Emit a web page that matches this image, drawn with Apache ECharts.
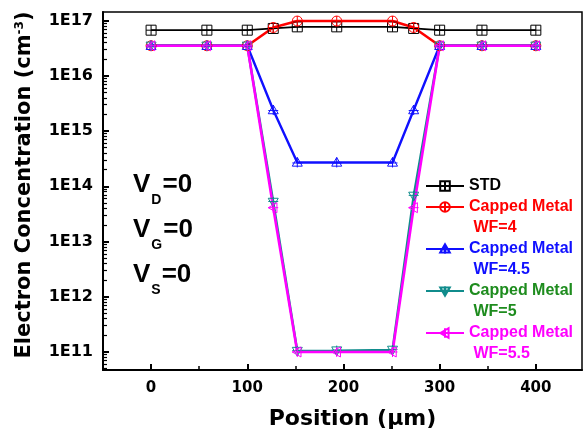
<!DOCTYPE html>
<html>
<head>
<meta charset="utf-8">
<script src="https://cdn.jsdelivr.net/npm/echarts@6/dist/echarts.min.js"></script>
<style>html,body{margin:0;padding:0;background:#fff}#c{width:585px;height:437px}</style>
</head>
<body>
<div id="c"></div>
<script>
// ---- data ----
const positions = [0, 58, 100, 127, 152, 193, 251, 273, 300, 344, 400];
const stdVals   = [6.7e16, 6.7e16, 6.7e16, 7.2e16, 7.7e16, 7.7e16, 7.7e16, 7.2e16, 6.7e16, 6.7e16, 6.7e16];
const wf4Vals   = [3.5e16, 3.5e16, 3.5e16, 7.5e16, 9.8e16, 9.8e16, 9.8e16, 7.5e16, 3.5e16, 3.5e16, 3.5e16];
const wf45Vals  = [3.5e16, 3.5e16, 3.5e16, 2.4e15, 2.7e14, 2.7e14, 2.7e14, 2.4e15, 3.5e16, 3.5e16, 3.5e16];
const wf5Vals   = [3.5e16, 3.5e16, 3.5e16, 5.2e13, 1.04e11, 1.06e11, 1.09e11, 6.7e13, 3.5e16, 3.5e16, 3.5e16];
const wf55Vals  = [3.5e16, 3.5e16, 3.5e16, 4.1e13, 1.0e11, 1.0e11, 1.0e11, 4.1e13, 3.5e16, 3.5e16, 3.5e16];
const seriesNames = ['STD', 'Capped Metal WF=4', 'Capped Metal WF=4.5', 'Capped Metal WF=5', 'Capped Metal WF=5.5'];
const xTickLabels = [0, 100, 200, 300, 400];
const xMinorTicks = [50, 150, 250, 350];
const yTickLabels = [1e11, 1e12, 1e13, 1e14, 1e15, 1e16, 1e17];
const biasLabels = [['D', '0'], ['G', '0'], ['S', '0']];

// ---- styling ----
const lineColors = ['#000000', '#ff0000', '#1010ff', '#108c8c', '#ff00ff'];
const textColors = ['#000000', '#ff0000', '#1010ff', '#1e8c1e', '#ff00ff'];
const lineWidths = [1.8, 2.6, 2.4, 2.4, 2.6];
const symbols = [
  'path://M0,0L10,0L10,10L0,10ZM5,0L5,10M0,5L10,5',
  'path://M0,5A5,5,0,1,1,10,5A5,5,0,1,1,0,5ZM5,0L5,10M0,5L10,5',
  'path://M5,0L10,8.7L0,8.7ZM5,0L5,10M0,5.5L10,5.5',
  'path://M0,1.3L10,1.3L5,10ZM5,0L5,10M0,4.5L10,4.5',
  'path://M0,5L8.7,0L8.7,10ZM0,5L10,5M5,0L5,10'
];
const valueSets = [stdVals, wf4Vals, wf45Vals, wf5Vals, wf55Vals];

const yMinor = [];
for (let e = 10; e <= 16; e++) for (let m = 2; m <= 9; m++) { const v = m * Math.pow(10, e); if (v > 4.72e10 && v < 1.43e17) yMinor.push(v); }

const chart = echarts.init(document.getElementById('c'), null, {renderer: 'canvas'});
const tickFont = 'DejaVu Sans';

const series = seriesNames.map((n, i) => ({
  name: n,
  type: 'line',
  xAxisIndex: 0, yAxisIndex: 0,
  data: positions.map((p, k) => [p, valueSets[i][k]]),
  symbol: symbols[i],
  symbolSize: 10,
  showAllSymbol: true,
  lineStyle: {color: lineColors[i], width: lineWidths[i]},
  itemStyle: {color: 'rgba(0,0,0,0)', borderColor: lineColors[i], borderWidth: 1},
  emphasis: {disabled: true},
  animation: false
}));

const legendData = seriesNames.map((n, i) => ({
  name: n,
  textStyle: {color: textColors[i]}
}));

chart.setOption({
  animation: false,
  grid: {left: 103, right: 3, top: 12, bottom: 67, show: true, borderColor: '#000', borderWidth: 1.5, backgroundColor: 'transparent'},
  legend: {
    orient: 'vertical', left: 420, top: 170.5, itemGap: -21,
    itemWidth: 38, itemHeight: 12,
    data: legendData,
    formatter: n => n.indexOf(' WF') >= 0 ? '\u00a0\n' + n.replace(' WF', '\n WF') : n,
    textStyle: {fontFamily: 'Liberation Sans', fontWeight: 'bold', fontSize: 16, lineHeight: 21},
    selectedMode: false
  },
  xAxis: [{
    type: 'value', min: -50, max: 448,
    axisLine: {onZero: false, lineStyle: {color: '#000', width: 2}},
    axisTick: {inside: true, length: 6, customValues: xTickLabels, lineStyle: {width: 2, color: '#000'}},
    axisLabel: {customValues: xTickLabels, margin: 11, fontFamily: tickFont, fontWeight: 'bold', fontSize: 15, color: '#000'},
    splitLine: {show: false},
    name: 'Position (\u03bcm)', nameLocation: 'middle', nameGap: 38,
    nameTextStyle: {fontFamily: tickFont, fontWeight: 'bold', fontSize: 22, color: '#000', padding: [0, 0, 0, 20]}
  }, {
    type: 'value', min: -50, max: 448, position: 'bottom',
    axisLine: {show: false, onZero: false},
    axisTick: {inside: true, length: 4, customValues: xMinorTicks, lineStyle: {width: 1.5, color: '#000'}},
    axisLabel: {show: false}, splitLine: {show: false}
  }],
  yAxis: [{
    type: 'log', logBase: 10, min: 4.72e10, max: 1.43e17, position: 'left',
    axisLine: {show: true, onZero: false, lineStyle: {color: '#000', width: 2}},
    axisTick: {show: true, inside: true, length: 6, customValues: yTickLabels, lineStyle: {width: 2, color: '#000'}},
    axisLabel: {customValues: yTickLabels, margin: 10, fontFamily: tickFont, fontWeight: 'bold', fontSize: 16, color: '#000',
      formatter: v => '1E' + Math.round(Math.log10(v))},
    splitLine: {show: false},
    name: 'Electron Concentration (cm{sup|-3})', nameLocation: 'middle', nameGap: 67,
    nameTextStyle: {fontFamily: tickFont, fontWeight: 'bold', fontSize: 21, color: '#000', padding: [0, 0, 0, 12],
      rich: {sup: {fontFamily: tickFont, fontWeight: 'bold', fontSize: 12, verticalAlign: 'top', padding: [0, 0, 10, 0]}}}
  }, {
    type: 'log', logBase: 10, min: 4.72e10, max: 1.43e17, position: 'left',
    axisLine: {show: false, onZero: false},
    axisTick: {show: true, inside: true, length: 4, customValues: yMinor, lineStyle: {width: 1.2, color: '#000'}},
    axisLabel: {show: false}, splitLine: {show: false}
  }],
  graphic: biasLabels.map((b, i) => ({
    type: 'text', left: 133, top: 172 + i * 45,
    style: {
      text: '{v|V}{s|' + b[0] + '}{v|=' + b[1] + '}',
      rich: {
        v: {fontFamily: 'Liberation Sans', fontWeight: 'bold', fontSize: 26, lineHeight: 26, verticalAlign: 'top', fill: '#000'},
        s: {fontFamily: 'Liberation Sans', fontWeight: 'bold', fontSize: 14, lineHeight: 14, verticalAlign: 'top', padding: [21, 1, 0, 1], fill: '#000'}
      }
    }
  })),
  series: series
});
</script>
</body>
</html>
